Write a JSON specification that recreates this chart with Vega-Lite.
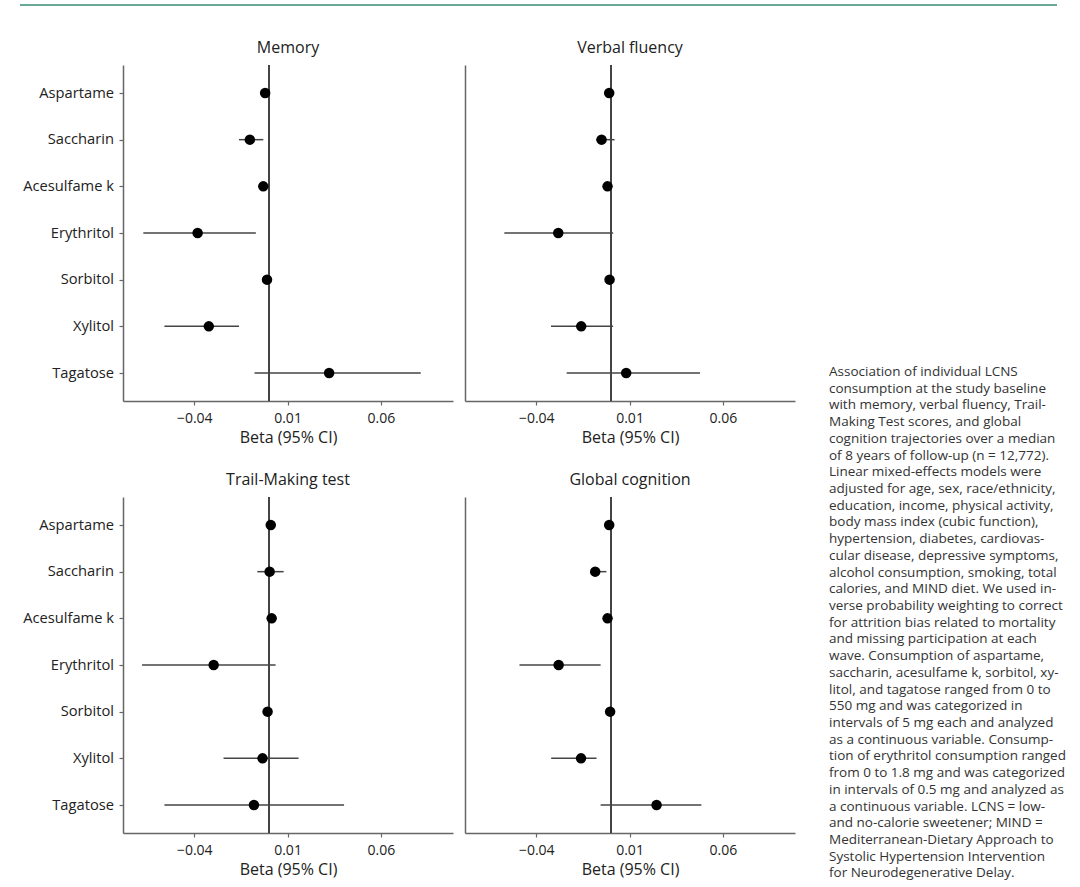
{
  "$schema": "https://vega.github.io/schema/vega-lite/v6.json",
  "background": "white",
  "padding": {"left": 18, "top": 4, "right": 0, "bottom": 0},
  "config": {
    "font": "Open Sans",
    "view": {"stroke": null},
    "title": {"font": "Open Sans", "fontSize": 16, "fontWeight": "normal", "color": "#222", "offset": 8},
    "axis": {"grid": false, "domainColor": "#666", "domainWidth": 1.5, "tickColor": "#666", "tickWidth": 1.2, "tickSize": 4,
      "labelFont": "Open Sans", "labelFontSize": 14, "labelColor": "#222", "labelPadding": 6,
      "titleFont": "Open Sans", "titleFontSize": 16, "titleFontWeight": "normal", "titleColor": "#222", "titlePadding": 4},
    "axisY": {"labelFontSize": 14.7, "labelPadding": 5.5}
  },
  "datasets": {
    "forest": [
      {"panel": "Memory", "sweetener": "Aspartame", "beta": -0.002, "lo": -0.0035, "hi": -0.0005},
      {"panel": "Memory", "sweetener": "Saccharin", "beta": -0.0102, "lo": -0.016, "hi": -0.003},
      {"panel": "Memory", "sweetener": "Acesulfame k", "beta": -0.003, "lo": -0.0045, "hi": -0.0015},
      {"panel": "Memory", "sweetener": "Erythritol", "beta": -0.0382, "lo": -0.0673, "hi": -0.007},
      {"panel": "Memory", "sweetener": "Sorbitol", "beta": -0.001, "lo": -0.0025, "hi": 0.0005},
      {"panel": "Memory", "sweetener": "Xylitol", "beta": -0.0322, "lo": -0.056, "hi": -0.016},
      {"panel": "Memory", "sweetener": "Tagatose", "beta": 0.0323, "lo": -0.0077, "hi": 0.0814},
      {"panel": "Verbal fluency", "sweetener": "Aspartame", "beta": -0.0009, "lo": -0.0025, "hi": 0.0007},
      {"panel": "Verbal fluency", "sweetener": "Saccharin", "beta": -0.005, "lo": -0.008, "hi": 0.002},
      {"panel": "Verbal fluency", "sweetener": "Acesulfame k", "beta": -0.0018, "lo": -0.0033, "hi": -0.0003},
      {"panel": "Verbal fluency", "sweetener": "Erythritol", "beta": -0.0282, "lo": -0.0571, "hi": 0.0012},
      {"panel": "Verbal fluency", "sweetener": "Sorbitol", "beta": -0.0007, "lo": -0.0022, "hi": 0.0008},
      {"panel": "Verbal fluency", "sweetener": "Xylitol", "beta": -0.0159, "lo": -0.0321, "hi": 0.0012},
      {"panel": "Verbal fluency", "sweetener": "Tagatose", "beta": 0.0082, "lo": -0.0237, "hi": 0.0478},
      {"panel": "Trail-Making test", "sweetener": "Aspartame", "beta": 0.001, "lo": -0.0005, "hi": 0.0025},
      {"panel": "Trail-Making test", "sweetener": "Saccharin", "beta": 0.0004, "lo": -0.0062, "hi": 0.0079},
      {"panel": "Trail-Making test", "sweetener": "Acesulfame k", "beta": 0.0015, "lo": 0.0, "hi": 0.003},
      {"panel": "Trail-Making test", "sweetener": "Erythritol", "beta": -0.0296, "lo": -0.068, "hi": 0.0036},
      {"panel": "Trail-Making test", "sweetener": "Sorbitol", "beta": -0.0007, "lo": -0.0022, "hi": 0.0008},
      {"panel": "Trail-Making test", "sweetener": "Xylitol", "beta": -0.0034, "lo": -0.0243, "hi": 0.0159},
      {"panel": "Trail-Making test", "sweetener": "Tagatose", "beta": -0.008, "lo": -0.056, "hi": 0.0403},
      {"panel": "Global cognition", "sweetener": "Aspartame", "beta": -0.0009, "lo": -0.0024, "hi": 0.0006},
      {"panel": "Global cognition", "sweetener": "Saccharin", "beta": -0.0084, "lo": -0.011, "hi": -0.0024},
      {"panel": "Global cognition", "sweetener": "Acesulfame k", "beta": -0.0018, "lo": -0.0033, "hi": -0.0003},
      {"panel": "Global cognition", "sweetener": "Erythritol", "beta": -0.028, "lo": -0.049, "hi": -0.0055},
      {"panel": "Global cognition", "sweetener": "Sorbitol", "beta": -0.0004, "lo": -0.0019, "hi": 0.0011},
      {"panel": "Global cognition", "sweetener": "Xylitol", "beta": -0.016, "lo": -0.032, "hi": -0.0077},
      {"panel": "Global cognition", "sweetener": "Tagatose", "beta": 0.0245, "lo": -0.0055, "hi": 0.0485}
    ],
    "caption": [
      {"line": 1, "text": "Association of individual LCNS"},
      {"line": 2, "text": "consumption at the study baseline"},
      {"line": 3, "text": "with memory, verbal fluency, Trail-"},
      {"line": 4, "text": "Making Test scores, and global"},
      {"line": 5, "text": "cognition trajectories over a median"},
      {"line": 6, "text": "of 8 years of follow-up (n = 12,772)."},
      {"line": 7, "text": "Linear mixed-effects models were"},
      {"line": 8, "text": "adjusted for age, sex, race/ethnicity,"},
      {"line": 9, "text": "education, income, physical activity,"},
      {"line": 10, "text": "body mass index (cubic function),"},
      {"line": 11, "text": "hypertension, diabetes, cardiovas-"},
      {"line": 12, "text": "cular disease, depressive symptoms,"},
      {"line": 13, "text": "alcohol consumption, smoking, total"},
      {"line": 14, "text": "calories, and MIND diet. We used in-"},
      {"line": 15, "text": "verse probability weighting to correct"},
      {"line": 16, "text": "for attrition bias related to mortality"},
      {"line": 17, "text": "and missing participation at each"},
      {"line": 18, "text": "wave. Consumption of aspartame,"},
      {"line": 19, "text": "saccharin, acesulfame k, sorbitol, xy-"},
      {"line": 20, "text": "litol, and tagatose ranged from 0 to"},
      {"line": 21, "text": "550 mg and was categorized in"},
      {"line": 22, "text": "intervals of 5 mg each and analyzed"},
      {"line": 23, "text": "as a continuous variable. Consump-"},
      {"line": 24, "text": "tion of erythritol consumption ranged"},
      {"line": 25, "text": "from 0 to 1.8 mg and was categorized"},
      {"line": 26, "text": "in intervals of 0.5 mg and analyzed as"},
      {"line": 27, "text": "a continuous variable. LCNS = low-"},
      {"line": 28, "text": "and no-calorie sweetener; MIND ="},
      {"line": 29, "text": "Mediterranean-Dietary Approach to"},
      {"line": 30, "text": "Systolic Hypertension Intervention"},
      {"line": 31, "text": "for Neurodegenerative Delay."}
    ]
  },
  "spacing": 34,
  "vconcat": [
    {
      "width": 934, "height": 1,
      "data": {"values": [{}]},
      "mark": {"type": "rule", "color": "#6aa898", "strokeWidth": 2},
      "encoding": {
        "x": {"datum": -0.1103, "type": "quantitative", "scale": {"domain": [0, 1]}, "axis": null},
        "x2": {"datum": 1},
        "y": {"datum": 0, "type": "quantitative", "scale": {"domain": [0, 1]}, "axis": null}
      }
    },
    {
      "spacing": 34,
      "hconcat": [
        {
          "spacing": 27,
          "vconcat": [
            {
              "spacing": 12,
              "hconcat": [
                {
                  "width": 330, "height": 336,
                  "title": "Memory",
                  "data": {"name": "forest"},
                  "transform": [{"filter": "datum.panel === 'Memory'"}],
                  "encoding": {
                    "y": {"field": "sweetener", "type": "nominal", "sort": ["Aspartame", "Saccharin", "Acesulfame k", "Erythritol", "Sorbitol", "Xylitol", "Tagatose"], "scale": {"type": "point", "padding": 0.6}, "axis": {"title": null}}
                  },
                  "layer": [
                    {"mark": {"type": "rule", "color": "#444", "strokeWidth": 1.5}, "encoding": {"x": {"datum": 0, "type": "quantitative"}, "y": null}},
                    {"mark": {"type": "rule", "color": "#444", "strokeWidth": 1.5}, "encoding": {"x": {"field": "lo", "type": "quantitative", "scale": {"domain": [-0.0782, 0.0987], "nice": false, "zero": false}, "axis": {"values": [-0.04, 0.01, 0.06], "format": ".2f", "title": "Beta (95% CI)"}}, "x2": {"field": "hi"}}},
                    {"mark": {"type": "point", "filled": true, "color": "black", "opacity": 1, "size": 110}, "encoding": {"x": {"field": "beta", "type": "quantitative"}}}
                  ]
                },
                {
                  "width": 330, "height": 336,
                  "title": "Verbal fluency",
                  "data": {"name": "forest"},
                  "transform": [{"filter": "datum.panel === 'Verbal fluency'"}],
                  "encoding": {
                    "y": {"field": "sweetener", "type": "nominal", "sort": ["Aspartame", "Saccharin", "Acesulfame k", "Erythritol", "Sorbitol", "Xylitol", "Tagatose"], "scale": {"type": "point", "padding": 0.6}, "axis": {"title": null, "labels": false, "ticks": false}}
                  },
                  "layer": [
                    {"mark": {"type": "rule", "color": "#444", "strokeWidth": 1.5}, "encoding": {"x": {"datum": 0, "type": "quantitative"}, "y": null}},
                    {"mark": {"type": "rule", "color": "#444", "strokeWidth": 1.5}, "encoding": {"x": {"field": "lo", "type": "quantitative", "scale": {"domain": [-0.0782, 0.0987], "nice": false, "zero": false}, "axis": {"values": [-0.04, 0.01, 0.06], "format": ".2f", "title": "Beta (95% CI)"}}, "x2": {"field": "hi"}}},
                    {"mark": {"type": "point", "filled": true, "color": "black", "opacity": 1, "size": 110}, "encoding": {"x": {"field": "beta", "type": "quantitative"}}}
                  ]
                }
              ]
            },
            {
              "spacing": 12,
              "hconcat": [
                {
                  "width": 330, "height": 336,
                  "title": "Trail-Making test",
                  "data": {"name": "forest"},
                  "transform": [{"filter": "datum.panel === 'Trail-Making test'"}],
                  "encoding": {
                    "y": {"field": "sweetener", "type": "nominal", "sort": ["Aspartame", "Saccharin", "Acesulfame k", "Erythritol", "Sorbitol", "Xylitol", "Tagatose"], "scale": {"type": "point", "padding": 0.6}, "axis": {"title": null}}
                  },
                  "layer": [
                    {"mark": {"type": "rule", "color": "#444", "strokeWidth": 1.5}, "encoding": {"x": {"datum": 0, "type": "quantitative"}, "y": null}},
                    {"mark": {"type": "rule", "color": "#444", "strokeWidth": 1.5}, "encoding": {"x": {"field": "lo", "type": "quantitative", "scale": {"domain": [-0.0782, 0.0987], "nice": false, "zero": false}, "axis": {"values": [-0.04, 0.01, 0.06], "format": ".2f", "title": "Beta (95% CI)"}}, "x2": {"field": "hi"}}},
                    {"mark": {"type": "point", "filled": true, "color": "black", "opacity": 1, "size": 110}, "encoding": {"x": {"field": "beta", "type": "quantitative"}}}
                  ]
                },
                {
                  "width": 330, "height": 336,
                  "title": "Global cognition",
                  "data": {"name": "forest"},
                  "transform": [{"filter": "datum.panel === 'Global cognition'"}],
                  "encoding": {
                    "y": {"field": "sweetener", "type": "nominal", "sort": ["Aspartame", "Saccharin", "Acesulfame k", "Erythritol", "Sorbitol", "Xylitol", "Tagatose"], "scale": {"type": "point", "padding": 0.6}, "axis": {"title": null, "labels": false, "ticks": false}}
                  },
                  "layer": [
                    {"mark": {"type": "rule", "color": "#444", "strokeWidth": 1.5}, "encoding": {"x": {"datum": 0, "type": "quantitative"}, "y": null}},
                    {"mark": {"type": "rule", "color": "#444", "strokeWidth": 1.5}, "encoding": {"x": {"field": "lo", "type": "quantitative", "scale": {"domain": [-0.0782, 0.0987], "nice": false, "zero": false}, "axis": {"values": [-0.04, 0.01, 0.06], "format": ".2f", "title": "Beta (95% CI)"}}, "x2": {"field": "hi"}}},
                    {"mark": {"type": "point", "filled": true, "color": "black", "opacity": 1, "size": 110}, "encoding": {"x": {"field": "beta", "type": "quantitative"}}}
                  ]
                }
              ]
            }
          ]
        },
        {
          "width": 228, "height": 817,
          "data": {"name": "caption"},
          "mark": {"type": "text", "align": "left", "baseline": "middle", "font": "Open Sans", "fontSize": 13.5, "color": "#333"},
          "encoding": {
            "x": {"datum": 0, "type": "quantitative", "scale": {"domain": [0, 1]}, "axis": null},
            "y": {"field": "line", "type": "ordinal", "scale": {"type": "band", "range": [298.6, 816.8]}, "axis": null},
            "text": {"field": "text"}
          }
        }
      ]
    }
  ]
}
